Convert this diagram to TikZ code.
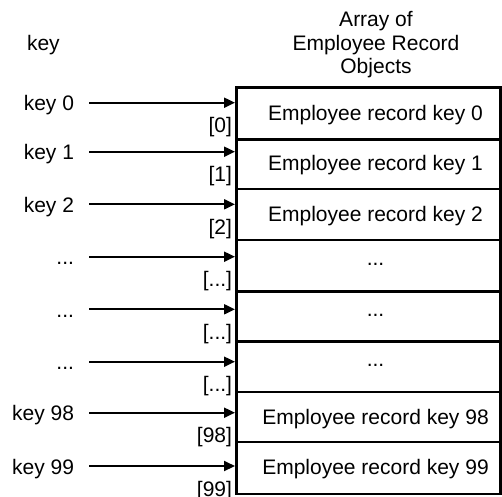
\documentclass[tikz,border=0pt]{standalone}
\usepackage{fontspec}
\setmainfont{Liberation Sans}
\usetikzlibrary{arrows.meta}
\tikzset{
  rowbox/.style={draw=black, line width=2.5pt, minimum width=264pt, inner sep=0pt, outer sep=0pt},
  keyarrow/.style={line width=2pt, -{Triangle[length=11pt,width=10pt]}, shorten >=1.5pt},
  lbl/.style={inner sep=0pt, outer sep=0pt, font=\fontsize{21}{23.3}\selectfont},
}
\newcommand{\arrslot}[8]{%
  \node[rowbox, minimum height={#3-#2}, anchor=north west] (r#1) at (236.5,#2) {};
  \node[lbl, anchor=base] (t#1) at (375.5,#8) {#7};
  \node[lbl, anchor=base east] (k#1) at (74,{#4+8}) {#5};
  \node[lbl, anchor=base east] (i#1) at (232,{#4+30}) {#6};
  \coordinate (s#1) at (89,#4);
  \draw[keyarrow] (s#1) -- (r#1.west |- s#1);
}
\begin{document}
\begin{tikzpicture}[x=1pt,y=-1pt]
\useasboundingbox (0,0) rectangle (502,496);
\node[lbl, anchor=base west] (hk) at (27,50) {key};
\node[lbl, anchor=base] (h1) at (376,26.7) {Array of};
\node[lbl, anchor=base] (h2) at (376,50) {Employee Record};
\node[lbl, anchor=base] (h3) at (376,73.3) {Objects};
\arrslot{0}{87.5}{139.5}{102.7}{key 0}{[0]}{Employee record key 0}{120.7}
\arrslot{1}{139.5}{189}{151.7}{key 1}{[1]}{Employee record key 1}{170.7}
\arrslot{2}{189}{240}{204.3}{key 2}{[2]}{Employee record key 2}{221.5}
\arrslot{3}{240}{291.5}{256.7}{...}{[...]}{...}{265.8}
\arrslot{4}{291.5}{341.5}{309.3}{...}{[...]}{...}{316.5}
\arrslot{5}{341.5}{392}{361.7}{...}{[...]}{...}{366.7}
\arrslot{6}{392}{442}{412.7}{key 98}{[98]}{Employee record key 98}{424}
\arrslot{7}{442}{494}{466}{key 99}{[99]}{Employee record key 99}{474.5}
\draw[line width=3pt] (r0.north west) -- (r7.south west);
\end{tikzpicture}
\end{document}
